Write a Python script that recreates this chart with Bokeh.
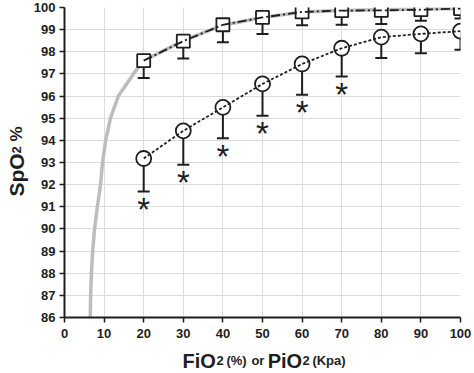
import math
from bokeh.plotting import figure
from bokeh.layouts import row, column
from bokeh.models import Range1d, ColumnDataSource, Label, FixedTicker
from bokeh.core.properties import value
from bokeh.embed import file_html
from bokeh.resources import INLINE

# ---- data ----
fio2 = [20, 30, 40, 50, 60, 70, 80, 90, 100]
sq_mean = [97.6, 98.48, 99.22, 99.55, 99.8, 99.86, 99.87, 99.9, 99.95]
sq_low = [96.82, 97.7, 98.43, 98.8, 99.2, 99.22, 99.26, 99.4, 99.5]
ci_mean = [93.18, 94.43, 95.49, 96.55, 97.45, 98.16, 98.66, 98.81, 98.93]
ci_low = [91.69, 92.9, 94.1, 95.11, 96.06, 96.88, 97.72, 97.93, 98.09]
significant = [True, True, True, True, True, True, False, False, False]

curve_x = [6.5, 6.6, 6.8, 7.1, 7.6, 8.3, 9.1, 9.6, 10.4, 11.6, 13.6, 17.4,
           20, 30, 40, 50, 60, 70, 80, 90, 100]
curve_y = [86, 87, 88, 89, 90, 91, 92, 93, 94, 95, 96, 97,
           97.6, 98.5, 99.2, 99.55, 99.8, 99.87, 99.9, 99.93, 99.95]

x_ticks = [0, 10, 20, 30, 40, 50, 60, 70, 80, 90, 100]
y_ticks = list(range(86, 101))

FONT = "Liberation Sans"
INK = "#1e1e1e"

LEFT_W = 30
MAIN_W = 444
MAIN_H = 345
BOTTOM_H = 373 - MAIN_H

p = figure(width=MAIN_W, height=MAIN_H, output_backend="svg", toolbar_location=None,
           x_range=Range1d(0, 100), y_range=Range1d(86, 100),
           min_border_left=34, min_border_right=14, min_border_top=7,
           min_border_bottom=28)
p.outline_line_color = None
p.background_fill_color = "white"

for ax in (p.xaxis[0], p.yaxis[0]):
    ax.axis_line_width = 2
    ax.axis_line_color = INK
    ax.major_tick_line_color = INK
    ax.major_tick_line_width = 1.5
    ax.major_tick_out = 5
    ax.major_tick_in = 0
    ax.minor_tick_line_color = None
    ax.major_label_text_font = FONT
    ax.major_label_text_font_style = "bold"
    ax.major_label_text_font_size = "13px"
    ax.major_label_text_color = INK
p.xaxis[0].ticker = FixedTicker(ticks=x_ticks)
p.yaxis[0].ticker = FixedTicker(ticks=y_ticks)
p.xaxis[0].major_label_standoff = 6
p.yaxis[0].major_label_standoff = 4

p.xgrid.ticker = FixedTicker(ticks=x_ticks)
p.ygrid.ticker = FixedTicker(ticks=y_ticks)
p.grid.grid_line_color = "#dcdcdc"
p.grid.grid_line_width = 1

# gray curve
p.line(curve_x, curve_y, line_color="#bdbdbd", line_width=3.5)

src = ColumnDataSource(dict(x=fio2, sqm=sq_mean, sql=sq_low, cim=ci_mean, cil=ci_low))

# error bars
p.segment(x0="x", y0="sql", x1="x", y1="sqm", source=src, line_color=INK, line_width=2)
p.segment(x0="x", y0="cil", x1="x", y1="cim", source=src, line_color=INK, line_width=2)
p.dash(x="x", y="sql", source=src, size=12, line_color=INK, line_width=2)
p.dash(x="x", y="cil", source=src, size=12, line_color=INK, line_width=2)

# markers
p.scatter(x="x", y="sqm", source=src, marker="square", size=13, fill_color="white",
          line_color=INK, line_width=1.8)
p.scatter(x="x", y="cim", source=src, marker="circle", size=15, fill_color="white",
          line_color=INK, line_width=1.8)

# connecting lines
p.line(x="x", y="sqm", source=src, line_color=INK, line_width=1.8, line_dash="9 3 2 3")
p.line(x="x", y="cim", source=src, line_color=INK, line_width=1.8, line_dash="3 2")

# significance stars
sx = [x for x, s in zip(fio2, significant) if s]
sy = [y for y, s in zip(ci_low, significant) if s]
p.text(x=sx, y=sy, text=["*"] * len(sx), text_font=value(FONT),
       text_font_size="33px", text_align="center", text_baseline="alphabetic",
       y_offset=18, text_color=INK)


def strip(w, h, xr, bl, br):
    f = figure(width=w, height=h, output_backend="svg", toolbar_location=None,
               x_range=xr, y_range=Range1d(0, h),
               x_axis_type=None, y_axis_type=None, title=None,
               min_border=0, min_border_left=bl, min_border_right=br,
               min_border_top=0, min_border_bottom=0)
    f.outline_line_color = None
    f.background_fill_color = "white"
    f.border_fill_color = "white"
    return f


def lab(f, x, y, t, size, angle=0):
    f.add_layout(Label(x=x, y=y, text=t, text_font=FONT, text_font_style="bold",
                       text_font_size=size, text_color=INK, angle=angle,
                       text_align="left", text_baseline="alphabetic"))


# x-axis title strip; x in the main chart's data units (same frame as main)
bx = strip(MAIN_W, BOTTOM_H, Range1d(0, 100), 34, 14)
base = 13
lab(bx, 29.8, base, "FiO", "20px")
lab(bx, 38.4, base, "2", "13px")
lab(bx, 40.9, base, "(%)", "13px")
lab(bx, 47.2, base, "or", "13px")
lab(bx, 51.3, base, "PiO", "20px")
lab(bx, 60.1, base, "2", "13px")
lab(bx, 62.6, base, "(Kpa)", "13px")

# y-axis title strip (pixel coordinates)
ly = strip(LEFT_W, 373, Range1d(0, LEFT_W), 0, 0)
lab(ly, 16, 177, "SpO", "21px", math.pi / 2)
lab(ly, 16, 220, "2", "13px", math.pi / 2)
lab(ly, 16, 232, "%", "17px", math.pi / 2)

layout = row(ly, column(p, bx, spacing=0), spacing=0)

open("out.html", "w").write(file_html(layout, INLINE))
